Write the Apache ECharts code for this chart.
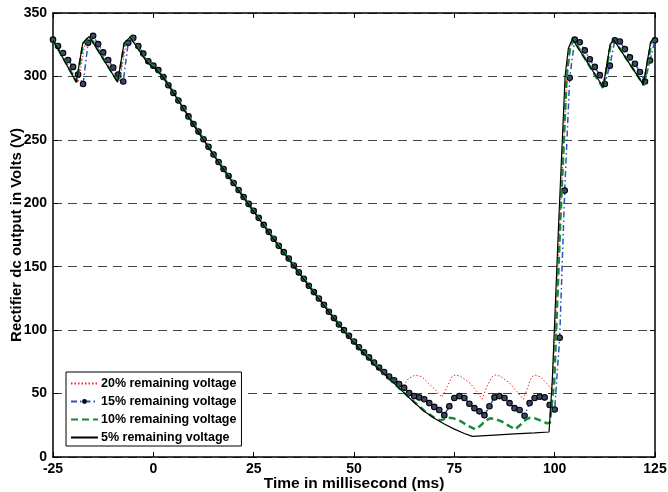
<!DOCTYPE html>
<html>
<head>
<meta charset="utf-8">
<title>Rectifier dc output during voltage sag</title>
<script src="https://cdn.jsdelivr.net/npm/echarts@6/dist/echarts.min.js"></script>
<style>
  html, body { margin: 0; padding: 0; background: #fff; }
  #chart { width: 668px; height: 492px; }
</style>
</head>
<body>
<div id="chart"></div>
<script>
// Series names (legend order)
const seriesNames = [
  '20% remaining voltage',
  '15% remaining voltage',
  '10% remaining voltage',
  '5% remaining voltage'
];

// Axis ticks
const timeTicks = { min: -25, max: 125, step: 25 };
const voltTicks = { min: 0, max: 350, step: 50 };

// 20% remaining voltage: [time (ms), dc output (V)]
const pct20 = [
  [-25,329],[-18.7,296],[-17,325.5],[-15.5,331.5],[-8.4,296],[-6.8,325.5],[-5.4,331],
  [-1.5,312],[1,305.5],[2.5,300],[5,288],[7.5,275.5],[10,263],[12.5,251],[15,239],
  [17.5,227.5],[20,216.5],[22.5,205.5],[25,194.5],[27.5,183.5],[30,172.5],[32.5,162],
  [35,151.5],[37.5,141],[40,130.5],[42.5,120.5],[45,110],[47.5,100.5],[50,91],
  [52.5,82.5],[55,74],[57.5,66],[60,58.5],[61.5,54.5],[62.4,56.5],[63.6,62],
  [65.3,64.6],[66.9,63.3],[69,56.8],[70.7,51.5],[71.9,47.1],[73.2,55.4],[74.4,63.3],
  [75.2,64.6],[76.5,63.8],[79,58],[80.6,51.5],[81.9,45.5],[83.1,55.4],[84.4,63.3],
  [85.2,64.6],[86.4,63.8],[88.9,58],[90.6,51.5],[92.2,45.5],[93.5,56.8],[94.3,63.3],
  [95.1,64.6],[96.4,63.3],[98,58],[99.3,52.8],[100.1,95],[101.6,205],[103.1,303],
  [103.9,323],[104.8,329],[112,292],[113.8,324],[114.7,329],[122,294],[124,327],[125,330.5]
];

// 15% remaining voltage (sampled trace, drawn with markers)
const pct15 = [
  [-25,329],[-23.75,324],[-22.5,318.5],[-21.25,313],[-20,307.5],[-18.75,301.5],[-17.5,294],
  [-16.25,326.5],[-15,332],[-13.75,325.5],[-12.5,319],[-11.25,313],[-10,307],[-8.75,301.5],
  [-7.5,296],[-6.25,326.5],[-5,330.5],[-3.75,324],[-2.5,318],[-1.25,312],[0,308.5],
  [1.25,305],[2.5,299.5],[3.75,293],[5,287],[6.25,281],[7.5,275],[8.75,268.5],[10,262.5],
  [11.25,256.5],[12.5,250.5],[13.75,244.5],[15,238.5],[16.25,232.5],[17.5,227],[18.75,221.5],
  [20,216],[21.25,210.5],[22.5,205],[23.75,199.5],[25,194],[26.25,188.5],[27.5,183],
  [28.75,177.5],[30,172],[31.25,166.5],[32.5,161.5],[33.75,156.5],[35,151],[36.25,145.5],
  [37.5,140.5],[38.75,135],[40,130],[41.25,125],[42.5,120],[43.75,114.5],[45,109.5],
  [46.25,104.5],[47.5,100],[48.75,95.5],[50,91],[51.25,86.5],[52.5,82.5],[53.75,78.5],
  [55,74.5],[56.25,70.5],[57.5,67],[58.75,63.5],[60,60.5],[61.25,57.5],[62.5,54.5],
  [63.75,50.5],[65,48],[66.25,47],[67.5,45.5],[68.75,42.5],[70,39.5],[71.25,37],[72.5,33],
  [73.75,40],[75,46.5],[76.25,48],[77.5,46.5],[78.75,42],[80,38.5],[81.25,36],[82.5,33],
  [83.75,40],[85,47],[86.25,48],[87.5,46.5],[88.75,42.5],[90,38.5],[91.25,37],[92.5,32.5],
  [93.75,42.5],[95,46.5],[96.25,47.5],[97.5,47],[98.75,41],[100,37.5],[101.25,94],
  [102.5,210],[103.75,299],[105,329],[106.25,327],[107.5,320.5],[108.75,313.5],[110,307.5],
  [111.25,301],[112.5,294],[113.75,308.5],[115,328.5],[116.25,327.5],[117.5,321.5],
  [118.75,315],[120,310],[121.25,303.5],[122.5,296],[123.75,312.5],[125,328.5]
];

// 10% remaining voltage
const pct10 = [
  [-25,329],[-19.1,295.5],[-17.5,326],[-15.9,331.5],[-8.8,295.5],[-7.2,326],[-5.7,331],
  [-1.5,311.5],[1,305],[2.5,299.5],[5,287.5],[7.5,275],[10,262.5],[12.5,250.5],[15,238.5],
  [17.5,227],[20,216],[22.5,205],[25,194],[27.5,183],[30,172],[32.5,161.5],[35,151],
  [37.5,140.5],[40,130],[42.5,120],[45,109.5],[47.5,100],[50,90.5],[52.5,82],[55,73.5],
  [57.5,65.5],[60,58],[62.5,50.5],[65,43.5],[67.5,36.5],[70,31],[71.4,28.8],[72.3,29.7],
  [73.6,31],[74.8,30.5],[76.5,28.4],[78.1,25.2],[80.2,21.8],[81.4,24.4],[82.7,28.4],
  [83.9,30.5],[85.2,30],[86.9,27.9],[88.5,24.7],[90.2,21.8],[91.4,25.2],[92.7,29.2],
  [93.9,31],[95.1,30.5],[96.8,28.4],[98.1,26.5],[98.8,27],[99.9,60],[101.4,185],[103,300],
  [103.8,322],[104.7,329],[112.1,290.5],[113.9,324],[114.8,329],[122.2,293],[124.1,327],[125,330.5]
];

// 5% remaining voltage
const pct5 = [
  [-25,328.5],[-19.2,295.5],[-17.6,326],[-16,331.5],[-8.9,295.5],[-7.3,326],[-5.8,331],
  [-1.5,311],[1,304.5],[2.5,299],[5,287],[7.5,274.5],[10,262],[12.5,250],[15,238],
  [17.5,226.5],[20,215.5],[22.5,204.5],[25,193.5],[27.5,182.5],[30,171.5],[32.5,161],
  [35,150.5],[37.5,140],[40,129.5],[42.5,119.5],[45,109],[47.5,99.5],[50,90],[52.5,81.5],
  [55,73],[57.5,65.5],[60,58],[62.5,50.5],[65,43],[67.5,36],[70,30.5],[72.5,26],[75,22],
  [77.5,18.5],[79.5,16.3],[85,17.3],[90,18.2],[95,19],[98.6,19.7],[99.4,60],[101,185],
  [102.6,300],[103.4,322],[104.4,329.5],[112.1,291.5],[113.8,325],[114.7,329],[122.1,293.5],
  [123.9,327],[125,331]
];

const FONT = '"Liberation Sans", Arial, Helvetica, sans-serif';

const chart = echarts.init(document.getElementById('chart'), null, { renderer: 'canvas' });

const tickLabel = { fontFamily: FONT, fontWeight: 'bold', fontSize: 14, color: '#000' };
const boxLine = { show: true, onZero: false, lineStyle: { color: '#000', width: 1.5 } };
const innerTick = { show: true, inside: true, length: 5, lineStyle: { color: '#000', width: 1 } };
const noMarker = { opacity: 0 };

const option = {
  animation: false,
  backgroundColor: '#fff',
  grid: { left: 53, right: 13, top: 13, bottom: 35, containLabel: false, outerBoundsMode: 'none' },
  legend: {
    orient: 'vertical',
    left: 66,
    top: 372,
    padding: [5, 5, 2, 4],
    itemWidth: 27,
    itemHeight: 6,
    itemGap: 5,
    backgroundColor: '#fff',
    borderColor: '#000',
    borderWidth: 1,
    borderRadius: 0,
    textStyle: { fontFamily: FONT, fontWeight: 'bold', fontSize: 12.5, color: '#000', padding: [0, 0, 0, -2] },
    data: [
      { name: seriesNames[0], itemStyle: noMarker },
      { name: seriesNames[1], itemStyle: { color: '#000', borderColor: '#000', borderWidth: 0 } },
      { name: seriesNames[2], itemStyle: noMarker },
      { name: seriesNames[3], itemStyle: noMarker }
    ]
  },
  xAxis: [
    {
      type: 'value',
      position: 'bottom',
      min: timeTicks.min, max: timeTicks.max, interval: timeTicks.step,
      name: 'Time in millisecond (ms)',
      nameLocation: 'middle',
      nameGap: 19,
      nameMoveOverlap: false,
      nameTextStyle: { fontFamily: FONT, fontWeight: 'bold', fontSize: 15.5, color: '#000' },
      axisLine: boxLine,
      axisTick: innerTick,
      axisLabel: Object.assign({ margin: 5, showMinLabel: true, showMaxLabel: true, hideOverlap: false }, tickLabel),
      splitLine: { show: false }
    },
    {
      type: 'value',
      position: 'top',
      min: timeTicks.min, max: timeTicks.max, interval: timeTicks.step,
      axisLine: boxLine,
      axisTick: innerTick,
      axisLabel: { show: false },
      splitLine: { show: false }
    }
  ],
  yAxis: [
    {
      type: 'value',
      position: 'left',
      min: voltTicks.min, max: voltTicks.max, interval: voltTicks.step,
      name: 'Rectifier dc output in Volts (V)',
      nameLocation: 'middle',
      nameGap: 29,
      nameMoveOverlap: false,
      nameTextStyle: { fontFamily: FONT, fontWeight: 'bold', fontSize: 15, color: '#000' },
      axisLine: boxLine,
      axisTick: innerTick,
      axisLabel: Object.assign({ margin: 6, showMinLabel: true, showMaxLabel: true, hideOverlap: false }, tickLabel),
      splitLine: { show: true, lineStyle: { color: '#444', width: 1, type: [9, 6] } }
    },
    {
      type: 'value',
      position: 'right',
      min: voltTicks.min, max: voltTicks.max, interval: voltTicks.step,
      axisLine: boxLine,
      axisTick: innerTick,
      axisLabel: { show: false },
      splitLine: { show: false }
    }
  ],
  series: [
    {
      name: seriesNames[0],
      type: 'line',
      data: pct20,
      symbol: 'none',
      lineStyle: { color: '#ff2020', width: 1, type: [1.5, 2] },
      itemStyle: { color: '#ff2020' },
      z: 2
    },
    {
      name: seriesNames[1],
      type: 'line',
      data: pct15,
      symbol: 'circle',
      symbolSize: 5.5,
      showSymbol: true,
      lineStyle: { color: '#3050c0', width: 1.5, type: [6, 3, 1.5, 3] },
      itemStyle: { color: '#3c4868', borderColor: '#000', borderWidth: 1.1 },
      z: 3
    },
    {
      name: seriesNames[2],
      type: 'line',
      data: pct10,
      symbol: 'none',
      lineStyle: { color: '#178a3c', width: 2.5, type: [7, 4] },
      itemStyle: { color: '#178a3c' },
      z: 4
    },
    {
      name: seriesNames[3],
      type: 'line',
      data: pct5,
      symbol: 'none',
      lineStyle: { color: '#000', width: 1.2, type: 'solid' },
      itemStyle: { color: '#000' },
      z: 5
    }
  ]
};

chart.setOption(option);
</script>
</body>
</html>
